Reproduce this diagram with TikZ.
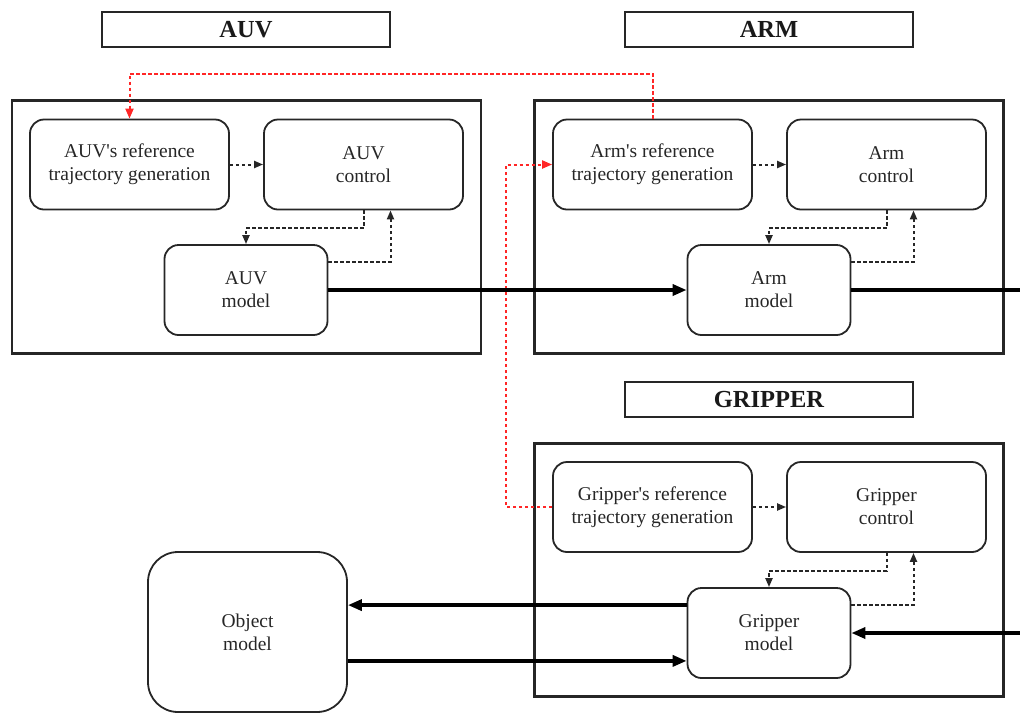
\documentclass[tikz,border=0pt]{standalone}
\usepackage{fontspec}
\setmainfont{Liberation Serif}
\usetikzlibrary{arrows.meta}
\begin{document}
\begin{tikzpicture}[x=1pt,y=-1pt,
  blk/.style={draw=black!85,line width=1.8pt,rounded corners=14pt,align=center,
    font=\fontsize{19.5}{23}\selectfont,text=black!85,inner sep=0pt,
    minimum width=199pt,minimum height=90pt},
  mdl/.style={blk,minimum width=163pt},
  container/.style={draw=black!85,line width=2.3pt,inner sep=0pt,
    minimum width=469pt,minimum height=253pt},
  titlebox/.style={draw=black!85,line width=2pt,inner sep=0pt,
    minimum width=288pt,minimum height=35pt,
    font=\fontsize{24.5}{28}\selectfont\bfseries,text=black!90},
  dots/.style={draw=black!85,line width=2pt,dash pattern=on 3.5pt off 2.5pt,
    -{Triangle[length=9pt,width=7pt]}},
  reddots/.style={draw=red!85,line width=2pt,dash pattern=on 3.5pt off 2.5pt,
    -{Triangle[length=10pt,width=8pt]}},
  flow/.style={draw=black,line width=3.4pt,-{Triangle[length=14pt,width=11pt]}},
  flowplain/.style={draw=black,line width=3.4pt}]
\useasboundingbox (0,0) rectangle (1020,713);

% titles
\node[titlebox] (tauv) at (246,29.5) {AUV};
\node[titlebox] (tarm) at (769,29.5) {ARM};
\node[titlebox] (tgrip) at (769,399) {GRIPPER};

% containers
\node[container] (cauv) at (246.5,227) {};
\node[container] (carm) at (769,227) {};
\node[container] (cgrip) at (769,570) {};

% AUV
\node[blk] (auvr) at (129.5,164.5) {AUV\textquotesingle s reference\\trajectory generation};
\node[blk] (auvc) at (363.5,164.5) {AUV\\control};
\node[mdl] (auvm) at (246,290) {AUV\\model};

% ARM
\node[blk] (armr) at (652.5,164.5) {Arm\textquotesingle s reference\\trajectory generation};
\node[blk] (armc) at (886.5,164.5) {Arm\\control};
\node[mdl] (armm) at (769,290) {Arm\\model};

% GRIPPER
\node[blk] (gripr) at (652.5,507) {Gripper\textquotesingle s reference\\trajectory generation};
\node[blk] (gripc) at (886.5,507) {Gripper\\control};
\node[mdl] (gripm) at (769,633) {Gripper\\model};

% Object
\node[blk,rounded corners=30pt,minimum width=199pt,minimum height=160pt] (objm) at (247.5,632) {Object\\model};

% internal dotted connectors
\foreach \r/\c/\m in {auvr/auvc/auvm,armr/armc/armm,gripr/gripc/gripm}{
  \draw[dots] (\r.east) -- (\c.west);
  \draw[dots] (\c.south) -- ++(0,18) -| (\m.north);
  \draw[dots] ([yshift=-18pt]\m.north east) -| ([xshift=27pt]\c.south);
}

% red reference links
\draw[reddots] (armr.north) -- ++(0,-45) -| (auvr.north);
\draw[reddots] (gripr.west) -- ++(-46,0) |- (armr.west);

% main flows
\coordinate (armout) at (1020,290);
\coordinate (gripin) at (1020,633);
\coordinate (g1) at ([yshift=-18pt]gripm.north west);
\coordinate (g2) at ([yshift=18pt]gripm.south west);
\draw[flow] (auvm.east) -- (armm.west);
\draw[flowplain] (armm.east) -- (armout);
\draw[flow] (g1) -- (g1 -| objm.east);
\draw[flow] (g2 -| objm.east) -- (g2);
\draw[flow] (gripin) -- (gripm.east);
\end{tikzpicture}
\end{document}
